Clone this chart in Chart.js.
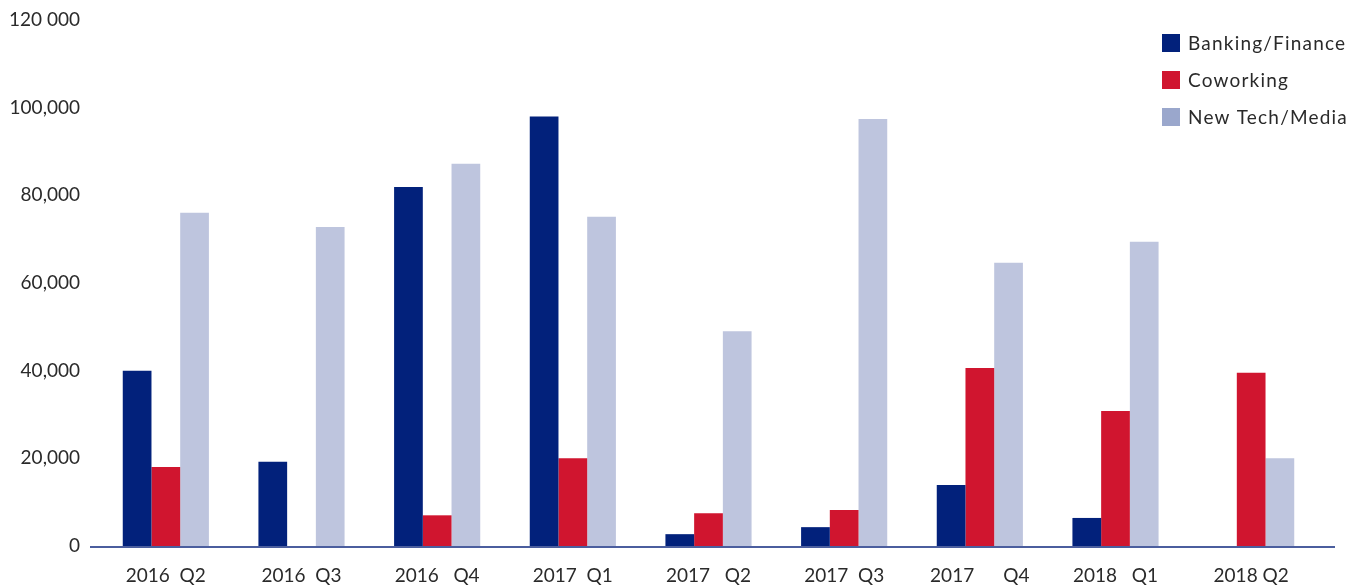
<!DOCTYPE html>
<html>
<head>
<meta charset="utf-8">
<script src="https://cdn.jsdelivr.net/npm/chart.js@4.4.1/dist/chart.umd.min.js"></script>
<style>
html,body{margin:0;padding:0;background:#fff;}
#wrap{width:1363px;height:587px;position:relative;}
</style>
</head>
<body>
<div id="wrap"><canvas id="c" width="1363" height="587"></canvas></div>
<script>
const categories = ['2016  Q2','2016  Q3','2016   Q4','2017  Q1','2017   Q2','2017  Q3','2017      Q4','2018   Q1','2018 Q2'];
const banking = [40000, 19200, 81900, 98000, 2700, 4300, 13900, 6400, 0];
const coworking = [18000, 0, 7000, 20000, 7500, 8200, 40600, 30800, 39500];
const newTech = [76000, 72800, 87200, 75100, 49000, 97400, 64600, 69400, 20000];
const seriesNames = ['Banking/Finance','Coworking','New Tech/Media'];
const yTickValues = [0, 20000, 40000, 60000, 80000, 100000, 120000];
const yTickLabels = ['0','20,000','40,000','60,000','80,000','100,000','120 000'];

const barColors = ['#02217b','#d0152f','#bec5de'];
const legendColors = ['#02217b','#d0152f','#9aa7cc'];
const FONT = 'Lato, "Open Sans", sans-serif';
const TEXT = '#2a2a2a';

const axisLine = {
  id:'axisLine',
  afterDatasetsDraw(chart){
    const ctx = chart.ctx, a = chart.chartArea;
    ctx.save();
    ctx.strokeStyle = '#4b5e9e';
    ctx.lineWidth = 2;
    ctx.beginPath();
    ctx.moveTo(90, a.bottom + 1);
    ctx.lineTo(1335, a.bottom + 1);
    ctx.stroke();
    ctx.restore();
  }
};

const customLegend = {
  id:'customLegend',
  afterDraw(chart){
    const ctx = chart.ctx;
    ctx.save();
    ctx.font = '19px ' + FONT;
    ctx.letterSpacing = '1.2px';
    ctx.textBaseline = 'middle';
    ctx.textAlign = 'left';
    const ys = [43, 80, 117];
    chart.data.datasets.forEach((ds, i) => {
      ctx.fillStyle = legendColors[i];
      ctx.fillRect(1162, ys[i] - 9, 18, 18);
      ctx.fillStyle = TEXT;
      ctx.fillText(ds.label, 1188, ys[i] + 1);
    });
    ctx.restore();
  }
};

new Chart(document.getElementById('c'), {
  type:'bar',
  data:{
    labels: categories,
    datasets:[
      {label: seriesNames[0], data: banking, backgroundColor: barColors[0]},
      {label: seriesNames[1], data: coworking, backgroundColor: barColors[1]},
      {label: seriesNames[2], data: newTech, backgroundColor: barColors[2]}
    ]
  },
  options:{
    responsive:false,
    animation:false,
    devicePixelRatio:1,
    layout:{padding:{top:20, right:44, left:0, bottom:0}},
    datasets:{bar:{barPercentage:1, categoryPercentage:0.635}},
    plugins:{legend:{display:false}, tooltip:{enabled:false}},
    scales:{
      x:{
        grid:{display:false, drawTicks:false},
        border:{display:false},
        ticks:{color:TEXT, font:{family:FONT, size:19}, padding:18, maxRotation:0, autoSkip:false},
        afterFit(s){ s.height = 41; }
      },
      y:{
        min:0, max:120000,
        grid:{display:false, drawTicks:false},
        border:{display:false},
        afterBuildTicks(s){ s.ticks = yTickValues.map(v => ({value:v})); },
        ticks:{
          color:TEXT, font:{family:FONT, size:19}, padding:18,
          callback(v){ const i = yTickValues.indexOf(v); return i >= 0 ? yTickLabels[i] : ''; }
        },
        afterFit(s){ s.width = 98; s.paddingTop = 0; s.paddingBottom = 0; }
      }
    }
  },
  plugins:[axisLine, customLegend]
});
</script>
</body>
</html>
